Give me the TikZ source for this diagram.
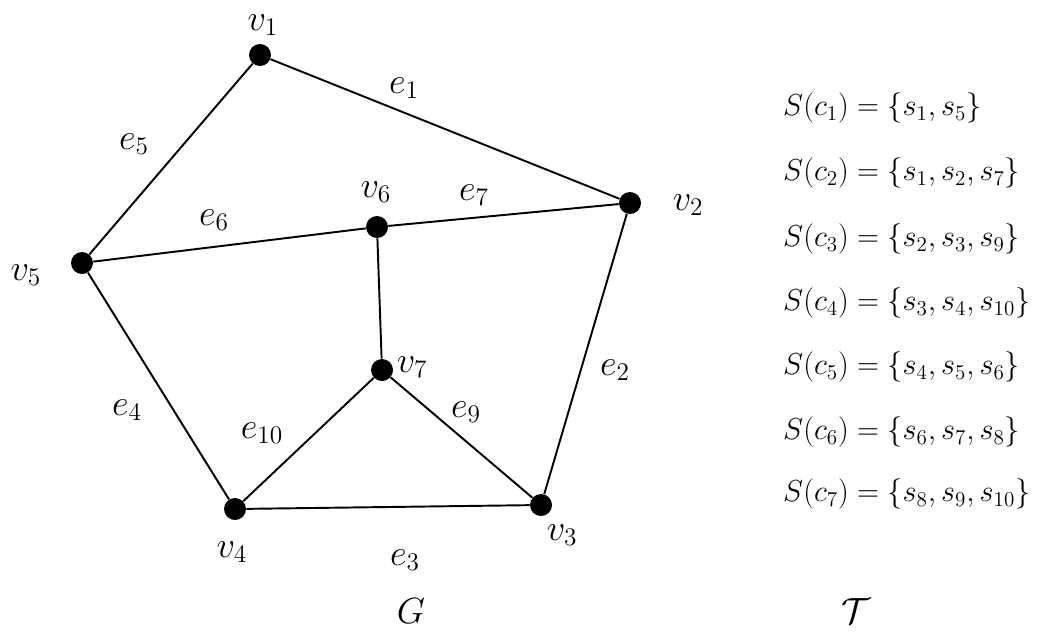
\documentclass[tikz,border=0pt]{standalone}
\usepackage{amsmath,amssymb}

\begin{document}
\begin{tikzpicture}[x=0.02cm, y=-0.02cm,
  vtx/.style={circle, fill=black, inner sep=0pt, minimum size=0.44cm},
  lbl/.style={font=\fontsize{22}{26}\selectfont},
  eqn/.style={font=\fontsize{17.7}{21}\selectfont, anchor=west}]
  \useasboundingbox (0,0) rectangle (1040,633);
  % vertices
  \node[vtx] (v1) at (260,55) {};
  \node[vtx] (v2) at (630,203) {};
  \node[vtx] (v3) at (541,505) {};
  \node[vtx] (v4) at (235,509) {};
  \node[vtx] (v5) at (82,263) {};
  \node[vtx] (v6) at (377,227) {};
  \node[vtx] (v7) at (382,370) {};
  % edges
  \draw[line width=1.1pt] (v1) -- (v2) -- (v3) -- (v4) -- (v5) -- (v1);
  \draw[line width=1.1pt] (v5) -- (v6) -- (v2);
  \draw[line width=1.1pt] (v6) -- (v7) -- (v3);
  \draw[line width=1.1pt] (v7) -- (v4);
  % vertex labels
  \node[lbl, inner sep=1pt] (lv1) at (263,25) {$v_1$};
  \node[lbl] (lv2) at (688,205) {$v_2$};
  \node[lbl] (lv3) at (562,535) {$v_3$};
  \node[lbl] (lv4) at (232,552) {$v_4$};
  \node[lbl] (lv5) at (26,275) {$v_5$};
  \node[lbl] (lv6) at (376,192) {$v_6$};
  \node[lbl] (lv7) at (412,367) {$v_7$};
  % edge labels
  \node[lbl] (le1) at (404,88) {$e_1$};
  \node[lbl] (le2) at (615,370) {$e_2$};
  \node[lbl] (le3) at (405,560) {$e_3$};
  \node[lbl] (le4) at (127,410) {$e_4$};
  \node[lbl] (le5) at (134,144) {$e_5$};
  \node[lbl] (le6) at (214,220) {$e_6$};
  \node[lbl] (le7) at (474,195) {$e_7$};
  \node[lbl] (le9) at (466,412) {$e_9$};
  \node[lbl] (le10) at (262,433) {$e_{10}$};
  % sets
  \node[eqn] (c1) at (777,108) {$S(c_1) = \{s_1, s_5\}$};
  \node[eqn] (c2) at (777,173) {$S(c_2) = \{s_1, s_2, s_7\}$};
  \node[eqn] (c3) at (777,239) {$S(c_3) = \{s_2, s_3, s_9\}$};
  \node[eqn] (c4) at (777,303) {$S(c_4) = \{s_3, s_4, s_{10}\}$};
  \node[eqn] (c5) at (777,367) {$S(c_5) = \{s_4, s_5, s_6\}$};
  \node[eqn] (c6) at (777,432) {$S(c_6) = \{s_6, s_7, s_8\}$};
  \node[eqn] (c7) at (777,494) {$S(c_7) = \{s_8, s_9, s_{10}\}$};
  % captions
  \node[font=\huge] (capG) at (411,611) {$G$};
  \node[font=\huge] (capT) at (856,611) {$\mathcal{T}$};
\end{tikzpicture}
\end{document}
